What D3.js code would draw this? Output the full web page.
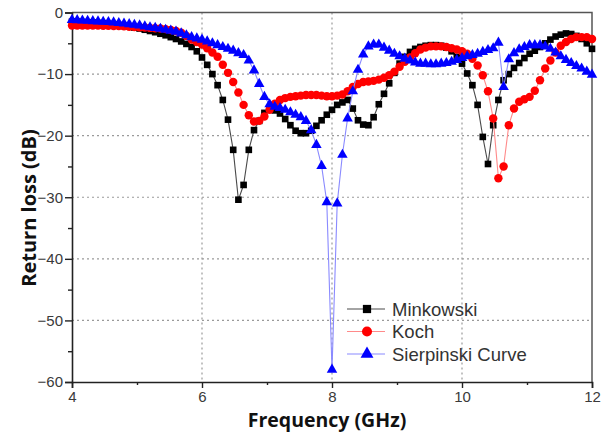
<!DOCTYPE html>
<html>
<head>
<meta charset="utf-8">
<script src="https://cdn.jsdelivr.net/npm/d3@7"></script>
<style>
  html, body { margin: 0; padding: 0; background: #fff; }
  svg { display: block; }
</style>
</head>
<body>
<div id="chart"></div>
<script>
// sweep 4-12 GHz
const freq = [
  4.00, 4.08, 4.16, 4.24, 4.32, 4.40, 4.48, 4.56, 4.64, 4.72,
  4.80, 4.88, 4.96, 5.04, 5.12, 5.20, 5.28, 5.36, 5.44, 5.52,
  5.60, 5.68, 5.76, 5.84, 5.92, 6.00, 6.08, 6.16, 6.24, 6.32,
  6.40, 6.48, 6.56, 6.64, 6.72, 6.80, 6.88, 6.96, 7.04, 7.12,
  7.20, 7.28, 7.36, 7.44, 7.52, 7.60, 7.68, 7.76, 7.84, 7.92,
  8.00, 8.08, 8.16, 8.24, 8.32, 8.40, 8.48, 8.56, 8.64, 8.72,
  8.80, 8.88, 8.96, 9.04, 9.12, 9.20, 9.28, 9.36, 9.44, 9.52,
  9.60, 9.68, 9.76, 9.84, 9.92, 10.00, 10.08, 10.16, 10.24, 10.32,
  10.40, 10.48, 10.56, 10.64, 10.72, 10.80, 10.88, 10.96, 11.04, 11.12,
  11.20, 11.28, 11.36, 11.44, 11.52, 11.60, 11.68, 11.76, 11.84, 11.92,
  12.00
];

const minkowski = [
  -1.5, -1.5, -1.55, -1.6, -1.65, -1.7, -1.75, -1.85, -1.95, -2.05,
  -2.15, -2.3, -2.45, -2.6, -2.8, -3.0, -3.2, -3.45, -3.7, -4.0,
  -4.3, -4.7, -5.1, -5.6, -6.3, -7.3, -8.5, -10.0, -11.8, -14.2,
  -17.4, -22.3, -30.4, -28.0, -22.3, -19.1, -17.6, -16.3, -15.8, -15.9,
  -16.4, -17.3, -18.3, -19.2, -19.6, -19.6, -19.2, -18.4, -17.5, -16.6,
  -15.8, -15.0, -14.6, -14.2, -15.6, -17.5, -18.2, -18.3, -17.0, -14.9,
  -13.2, -11.5, -9.8, -8.3, -7.2, -6.4, -5.9, -5.6, -5.4, -5.3,
  -5.3, -5.4, -5.7, -6.3, -7.2, -8.3, -9.9, -11.8, -15.0, -20.2,
  -24.6, -18.3, -14.2, -11.0, -10.0, -9.0, -8.2, -7.4, -6.7, -6.2,
  -5.6, -5.0, -4.4, -3.9, -3.6, -3.4, -3.5, -3.8, -4.3, -5.0,
  -5.9
];

const koch = [
  -2.1, -2.1, -2.1, -2.1, -2.1, -2.1, -2.15, -2.15, -2.2, -2.2,
  -2.25, -2.3, -2.35, -2.4, -2.45, -2.5, -2.55, -2.6, -2.7, -2.85,
  -3.0, -3.3, -3.8, -4.4, -4.8, -5.2, -5.8, -6.5, -7.2, -8.5,
  -9.8, -11.3, -13.0, -15.0, -16.7, -17.7, -17.6, -16.9, -15.8, -14.8,
  -14.2, -13.9, -13.7, -13.6, -13.5, -13.4, -13.4, -13.4, -13.5, -13.6,
  -13.6, -13.5, -13.3, -12.8, -12.1, -11.6, -11.3, -11.2, -11.1, -10.9,
  -10.6, -10.2, -9.6, -8.8, -8.0, -7.3, -6.6, -6.0, -5.7, -5.5,
  -5.5, -5.5, -5.6, -5.8, -6.0, -6.3, -6.7, -7.5, -8.6, -10.2,
  -12.8, -17.2, -26.9, -25.0, -18.3, -15.6, -14.5, -14.1, -13.7, -12.7,
  -11.0, -9.1, -7.8, -6.5, -5.4, -4.8, -4.3, -4.0, -4.0, -4.0,
  -4.3
];

const sierpinski = [
  -1.2, -1.25, -1.3, -1.35, -1.4, -1.45, -1.5, -1.55, -1.6, -1.7,
  -1.8, -1.9, -2.0, -2.1, -2.25, -2.4, -2.5, -2.65, -2.8, -2.95,
  -3.1, -3.4, -3.7, -4.0, -4.2, -4.4, -4.7, -5.0, -5.3, -5.6,
  -5.9, -6.2, -6.6, -6.9, -7.8, -9.4, -11.6, -13.7, -14.9, -15.3,
  -15.5, -15.8, -16.2, -16.6, -17.0, -17.6, -19.1, -21.5, -24.9, -30.8,
  -58.0, -31.0, -23.1, -17.2, -12.8, -9.3, -6.8, -5.5, -5.2, -5.2,
  -5.7, -6.2, -6.7, -7.1, -7.5, -7.8, -8.1, -8.3, -8.3, -8.4,
  -8.4, -8.3, -8.2, -8.0, -7.7, -7.4, -7.1, -6.9, -6.7, -6.4,
  -6.1, -5.8, -4.9, -12.1, -7.6, -6.6, -6.0, -5.6, -5.3, -5.3,
  -5.3, -5.5, -5.9, -6.5, -7.1, -7.7, -8.2, -8.7, -9.1, -9.6,
  -10.1
];

const seriesNames = ['Minkowski', 'Koch', 'Sierpinski Curve'];
const xTicks = [4, 6, 8, 10, 12];
const xMinor = [5, 7, 9, 11];
const yTicks = [0, -10, -20, -30, -40, -50, -60];
const yMinor = [-5, -15, -25, -35, -45, -55];

const W = 615, H = 435;
const margin = { left: 72, right: 23, top: 12.5, bottom: 53 };

const styles = [
  { fill: '#000000', line: '#4a4a4a', symbol: d3.symbolSquare, size: 44 },
  { fill: '#ff0000', line: '#ff8a8a', symbol: d3.symbolCircle, size: 56 },
  { fill: '#0000ff', line: '#8a8aff', symbol: d3.symbolTriangle, size: 48 }
];

const svg = d3.select('#chart').append('svg')
  .attr('width', W)
  .attr('height', H);

const x = d3.scaleLinear().domain([4, 12]).range([margin.left, W - margin.right]);
const y = d3.scaleLinear().domain([-60, 0]).range([H - margin.bottom, margin.top]);

// grid
const grid = svg.append('g').attr('class', 'grid')
  .attr('stroke', '#9a9a9a')
  .attr('stroke-width', 1.2)
  .attr('stroke-dasharray', '2,3');
grid.selectAll('line.gx')
  .data([6, 8, 10])
  .join('line')
  .attr('x1', d => x(d)).attr('x2', d => x(d))
  .attr('y1', y(0)).attr('y2', y(-60));
grid.selectAll('line.gy')
  .data([-10, -20, -30, -40, -50])
  .join('line')
  .attr('class', 'gy')
  .attr('x1', x(4)).attr('x2', x(12))
  .attr('y1', d => y(d)).attr('y2', d => y(d));

// frame (top/right)
svg.append('path')
  .attr('d', `M${x(4)},${y(0)}H${x(12)}V${y(-60)}`)
  .attr('fill', 'none')
  .attr('stroke', '#555')
  .attr('stroke-width', 1.5);

// axes
svg.append('g')
  .attr('transform', `translate(0,${y(-60)})`)
  .call(d3.axisBottom(x).tickValues(xTicks).tickFormat(d3.format('d')).tickSize(6).tickPadding(3));
svg.append('g')
  .attr('transform', `translate(0,${y(-60)})`)
  .call(d3.axisBottom(x).tickValues(xMinor).tickFormat('').tickSize(3))
  .select('.domain').remove();

svg.append('g')
  .attr('transform', `translate(${x(4)},0)`)
  .call(d3.axisLeft(y).tickValues(yTicks).tickFormat(d3.format('d')).tickSize(7).tickPadding(2));
svg.append('g')
  .attr('transform', `translate(${x(4)},0)`)
  .call(d3.axisLeft(y).tickValues(yMinor).tickFormat('').tickSize(4))
  .select('.domain').remove();

svg.selectAll('.domain').attr('stroke', '#222').attr('stroke-width', 1.6);
svg.selectAll('.tick line').attr('stroke', '#222').attr('stroke-width', 1.4);
svg.selectAll('.tick text')
  .attr('font-family', 'Liberation Sans, Arial, sans-serif')
  .attr('font-size', 15)
  .attr('fill', '#3a3a3a');

// series
const allSeries = [minkowski, koch, sierpinski];
const line = d3.line()
  .x(d => x(d[0]))
  .y(d => y(d[1]));

allSeries.forEach((vals, k) => {
  const pts = freq.map((f, i) => [f, vals[i]]);
  const st = styles[k];
  const g = svg.append('g').attr('class', 'series');
  g.append('path')
    .datum(pts)
    .attr('fill', 'none')
    .attr('stroke', st.line)
    .attr('stroke-width', 1.1)
    .attr('d', line);
  g.selectAll('path.pt')
    .data(pts)
    .join('path')
    .attr('class', 'pt')
    .attr('transform', d => `translate(${x(d[0])},${y(d[1])})`)
    .attr('d', d3.symbol().type(st.symbol).size(st.size))
    .attr('fill', st.fill);
});

// legend
const legend = svg.append('g')
  .attr('transform', 'translate(347,309)');
const items = legend.selectAll('g.item')
  .data(seriesNames)
  .join('g')
  .attr('class', 'item')
  .attr('transform', (d, i) => `translate(0,${i * 22.5})`);
items.append('line')
  .attr('x1', 0).attr('x2', 38)
  .attr('stroke', (d, i) => styles[i].line)
  .attr('stroke-width', 1.1);
items.append('path')
  .attr('transform', 'translate(20,0)')
  .attr('d', (d, i) => d3.symbol().type(styles[i].symbol).size(styles[i].size + 24)())
  .attr('fill', (d, i) => styles[i].fill);
items.append('text')
  .attr('x', 45)
  .attr('y', 6.5)
  .attr('font-family', 'Liberation Sans, Arial, sans-serif')
  .attr('font-size', 18.5)
  .attr('fill', '#333')
  .text(d => d);

// axis titles
svg.append('text')
  .attr('x', 327)
  .attr('y', 427)
  .attr('text-anchor', 'middle')
  .attr('font-family', 'Open Sans, Lato, sans-serif')
  .attr('font-weight', 700)
  .attr('font-size', 19.5)
  .attr('fill', '#111')
  .text('Frequency (GHz)');

svg.append('text')
  .attr('transform', 'translate(36,208) rotate(-90)')
  .attr('text-anchor', 'middle')
  .attr('font-family', 'Open Sans, Lato, sans-serif')
  .attr('font-weight', 700)
  .attr('font-size', 20)
  .attr('fill', '#111')
  .text('Return loss (dB)');
</script>
</body>
</html>
